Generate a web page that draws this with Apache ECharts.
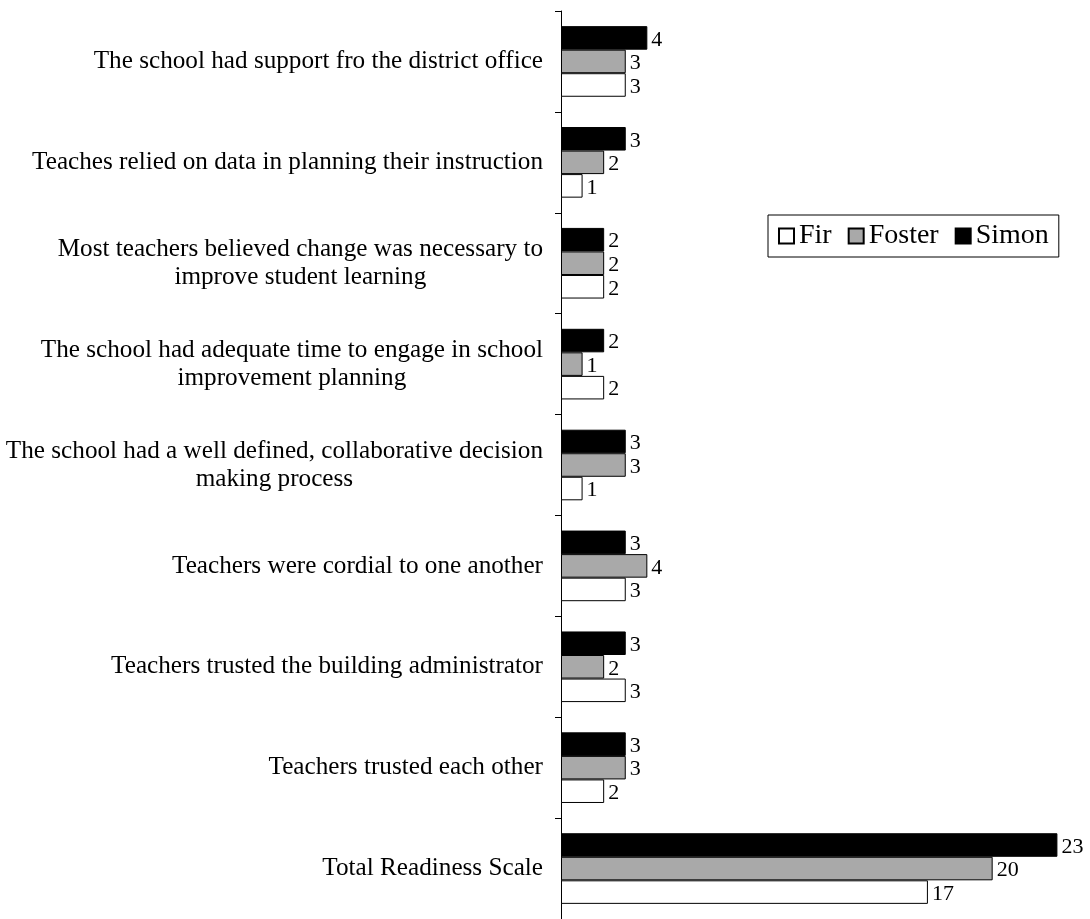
<!DOCTYPE html>
<html>
<head>
<meta charset="utf-8">
<script src="https://cdn.jsdelivr.net/npm/echarts@6/dist/echarts.min.js"></script>
<style>
  html, body { margin: 0; padding: 0; background: #fff; }
  #chart { width: 1090px; height: 919px; }
</style>
</head>
<body>
<div id="chart"></div>
<script>
// Readiness items, top to bottom
const categories = [
  'The school had support fro the district office',
  'Teaches relied on data in planning their instruction',
  'Most teachers believed change was necessary to\nimprove student learning',
  'The school had adequate time to engage in school\nimprovement planning',
  'The school had a well defined, collaborative decision\nmaking process',
  'Teachers were cordial to one another',
  'Teachers trusted the building administrator',
  'Teachers trusted each other',
  'Total Readiness Scale'
];
const firValues    = [3, 1, 2, 2, 1, 3, 3, 2, 17];
const fosterValues = [3, 2, 2, 1, 3, 4, 2, 3, 20];
const simonValues  = [4, 3, 2, 2, 3, 3, 3, 3, 23];
const legendNames  = ['Fir', 'Foster', 'Simon'];

const SERIF = '"Liberation Serif", "DejaVu Serif", serif';

const chart = echarts.init(document.getElementById('chart'));

function barSeries(name, data, fill) {
  return {
    name: name,
    type: 'bar',
    data: data,
    barGap: '0%',
    barCategoryGap: '30%',
    itemStyle: { color: fill, borderColor: '#000', borderWidth: 1 },
    label: {
      show: true,
      position: 'right',
      distance: 4,
      offset: [0, 2],
      color: '#000',
      fontFamily: SERIF,
      fontSize: 22
    }
  };
}

chart.setOption({
  animation: false,
  backgroundColor: '#fff',
  grid: {
    left: 561, top: 11, width: 518, bottom: 0,
    containLabel: false,
    outerBoundsMode: 'none'
  },
  legend: {
    data: legendNames,
    left: 768,
    top: 215,
    orient: 'horizontal',
    borderColor: '#000',
    borderWidth: 1,
    padding: [7, 10, 7, 10],
    itemWidth: 15,
    itemHeight: 15,
    itemGap: 16,
    icon: 'rect',
    textStyle: { fontFamily: SERIF, fontSize: 28, color: '#000' }
  },
  xAxis: {
    type: 'value',
    min: 0,
    max: 24,
    show: false
  },
  yAxis: {
    type: 'category',
    inverse: true,
    data: categories,
    axisLine: { show: true, lineStyle: { color: '#000', width: 1 } },
    axisTick: { show: true, inside: false, length: 6, lineStyle: { color: '#000' } },
    axisLabel: {
      margin: 18,
      align: 'right',
      color: '#000',
      formatter: function (v) {
        return v.split('\n').map(function (l) { return '{c|' + l + '}'; }).join('\n');
      },
      rich: {
        c: { align: 'center', fontFamily: SERIF, fontSize: 25.2, lineHeight: 28, color: '#000' }
      }
    },
    splitLine: { show: false }
  },
  // Simon listed first so it sits at the top of each group
  series: [
    barSeries('Simon', simonValues, '#000000'),
    barSeries('Foster', fosterValues, '#a9a9a9'),
    barSeries('Fir', firValues, '#ffffff')
  ]
});
</script>
</body>
</html>
